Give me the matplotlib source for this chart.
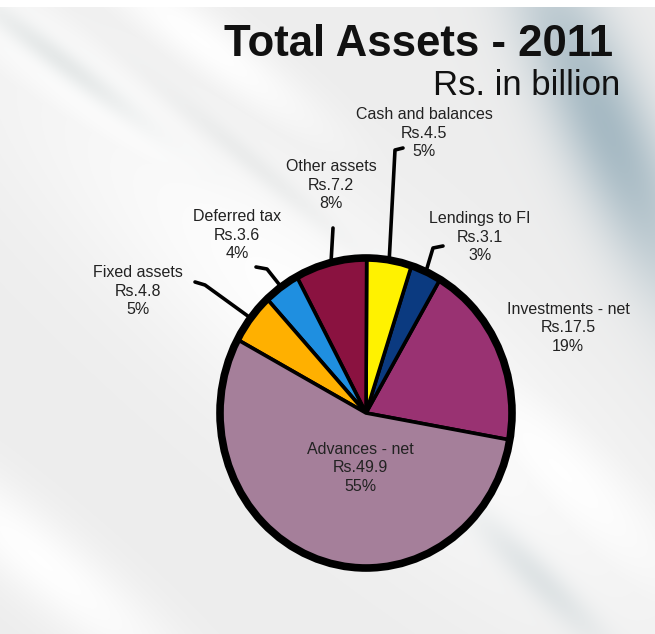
import numpy as np
import matplotlib
matplotlib.use("Agg")
import matplotlib.pyplot as plt
from matplotlib.patches import Circle

plt.rcParams["font.family"] = ["Liberation Sans", "DejaVu Sans"]

# Total assets breakdown, Rs. in billion (counter-clockwise from the right)
CATEGORIES = ["Investments - net", "Lendings to FI", "Cash and balances",
              "Other assets", "Deferred tax", "Fixed assets", "Advances - net"]
VALUES = [17.5, 3.1, 4.5, 7.2, 3.6, 4.8, 49.9]
COLORS = ["#993272", "#0b3a80", "#fff200", "#8a1240",
          "#1f8fe0", "#ffb000", "#a57f9a"]

W, H = 655, 634
# pie ellipse in pixel space
CX, CY, RX, RY = 366, 413, 146, 155

# label block centres (px) and leader starting hooks (px)
LABEL_POS = {
    "Investments - net": (568, 328),
    "Lendings to FI": (480, 237),
    "Cash and balances": (424, 133),
    "Other assets": (331, 185),
    "Deferred tax": (237, 235),
    "Fixed assets": (138, 291),
    "Advances - net": (360, 468),
}
LEADERS = {
    "Lendings to FI": [(443, 246), (433, 248)],
    "Cash and balances": [(403, 148), (395, 150)],
    "Other assets": [(333, 228)],
    "Deferred tax": [(256, 267), (267, 269)],
    "Fixed assets": [(195, 282), (205, 285)],
}


def band(xx, yy, cx, cy, ang, width, length):
    a = np.deg2rad(ang)
    dx, dy = xx - cx, yy - cy
    along = dx * np.cos(a) + dy * np.sin(a)
    perp = -dx * np.sin(a) + dy * np.cos(a)
    return np.exp(-(perp / width) ** 2) * np.exp(-(along / length) ** 2)


def background():
    yy, xx = np.mgrid[0:H, 0:W].astype(float)
    img = np.ones((H, W, 3)) * 0.93
    white = np.zeros((H, W))
    for c in [(90, 90, 37, 45, 260), (330, 330, 40, 110, 420),
              (200, 40, 37, 30, 160), (560, 470, 45, 50, 200),
              (40, 560, 40, 40, 200)]:
        white = np.maximum(white, band(xx, yy, *c))
    img += (1.0 - img) * white[..., None] * 0.95
    streaks = [((605, 125, 66, 48, 190), (0.64, 0.72, 0.76), 0.95),
               ((60, 60, 37, 14, 110), (0.84, 0.86, 0.86), 0.6),
               ((540, 580, 45, 18, 90), (0.82, 0.85, 0.86), 0.6),
               ((250, 160, 40, 12, 120), (0.88, 0.89, 0.89), 0.5)]
    for prm, col, k in streaks:
        w = band(xx, yy, *prm)[..., None] * k
        img = img * (1 - w) + np.array(col) * w
    img[:7] = 1.0
    return np.clip(img, 0, 1)


fig = plt.figure(figsize=(W / 100, H / 100), dpi=100)
ax_bg = fig.add_axes([0, 0, 1, 1])
ax_bg.imshow(background(), extent=(0, W, H, 0), aspect="auto", zorder=0)
ax_bg.set_xlim(0, W)
ax_bg.set_ylim(H, 0)
ax_bg.axis("off")

ax_pie = fig.add_axes([(CX - RX) / W, 1 - (CY + RY) / H, 2 * RX / W, 2 * RY / H])
wedges, _ = ax_pie.pie(VALUES, colors=COLORS, startangle=-10, radius=1,
                       wedgeprops=dict(edgecolor="black", linewidth=2.6))
for w in wedges:
    w.set_clip_on(False)
ax_pie.add_patch(Circle((0, 0), 1, fill=False, edgecolor="black",
                        linewidth=5.5, clip_on=False))
ax_pie.set_aspect("auto")
ax_pie.set_xlim(-1, 1)
ax_pie.set_ylim(-1, 1)
ax_pie.axis("off")

total = sum(VALUES)
for name, val, w in zip(CATEGORIES, VALUES, wedges):
    pct = round(100 * val / total)
    x, y = LABEL_POS[name]
    fig.text(x, y, f"{name}\nRs.{val}\n{pct}%", transform=ax_bg.transData,
             ha="center", va="center", fontsize=11.5, color="#222222",
             linespacing=1.28)
    if name in LEADERS:
        mid = np.deg2rad((w.theta1 + w.theta2) / 2)
        rim = (CX + 0.99 * RX * np.cos(mid), CY - 0.99 * RY * np.sin(mid))
        pts = LEADERS[name] + [rim]
        ax_bg.plot([p[0] for p in pts], [p[1] for p in pts], color="black",
                   lw=2.6, solid_capstyle="round", solid_joinstyle="round")

fig.text(613 / W, 1 - 56 / H, "Total Assets - 2011", ha="right", va="baseline",
         fontsize=31.5, fontweight="bold", color="#111111")
fig.text(620 / W, 1 - 95 / H, "Rs. in billion", ha="right", va="baseline",
         fontsize=25, color="#111111")

fig.savefig("out.png", dpi=100)
